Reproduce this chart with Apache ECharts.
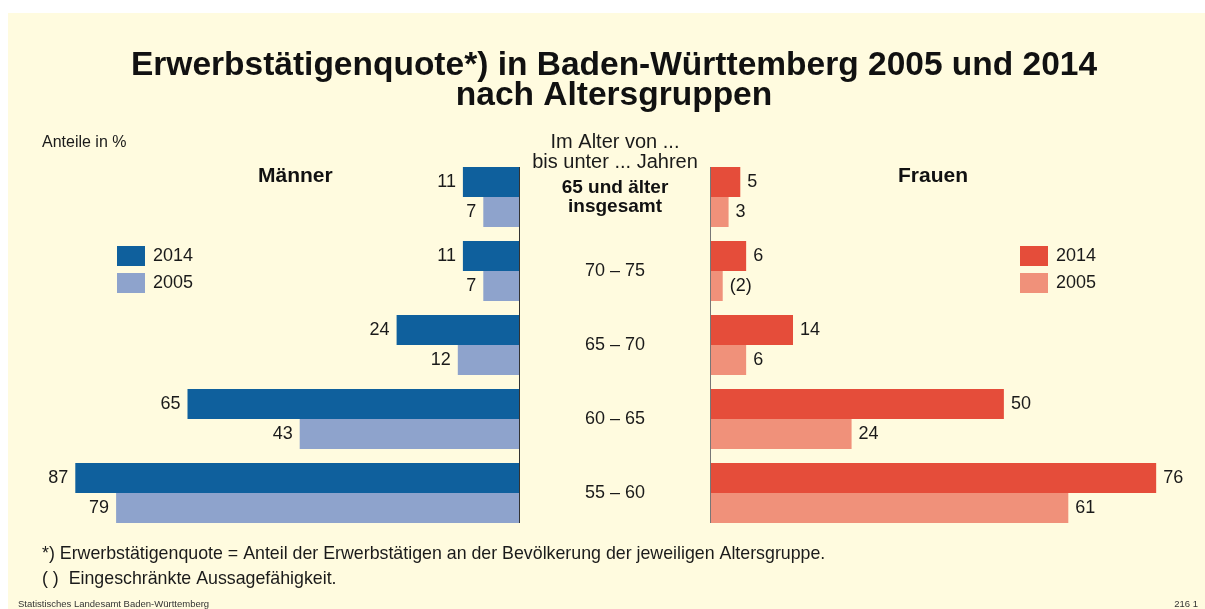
<!DOCTYPE html>
<html>
<head>
<meta charset="utf-8">
<script src="https://cdn.jsdelivr.net/npm/echarts@6/dist/echarts.min.js"></script>
<style>
  html, body { margin: 0; padding: 0; background: #fff; }
  .paper { position: absolute; left: 8px; top: 13px; width: 1197px; height: 596px; background: #fffbdf; }
  #chart { position: absolute; left: 0; top: 0; width: 1205px; height: 609px; }
</style>
</head>
<body>
<div class="paper"></div>
<div id="chart"></div>
<script>
// Altersgruppen (von oben nach unten)
const categories = ['65 und älter insgesamt', '70 – 75', '65 – 70', '60 – 65', '55 – 60'];
// Anteile in %
const maenner2014 = [11, 11, 24, 65, 87];
const maenner2005 = [7, 7, 12, 43, 79];
const frauen2014 = [5, 6, 14, 50, 76];
const frauen2005 = [3, 2, 6, 24, 61];
// eingeschränkte Aussagefähigkeit -> Wert in Klammern
const frauen2005Klammer = [false, true, false, false, false];

const font = '"Liberation Sans", Arial, sans-serif';
const colors = { m14: '#0f609d', m05: '#8ea3cc', f14: '#e54d3a', f05: '#f0917a' };

// Layout
const gridTop = 160, gridHeight = 370, barW = 30;
const band = gridHeight / categories.length;
const axisTop = gridTop + (band - 2 * barW) / 2;
const axisBottom = gridTop + gridHeight - (band - 2 * barW) / 2;

const chart = echarts.init(document.getElementById('chart'));

function barLabel(pos) {
  return {
    show: true,
    position: pos,
    distance: 7,
    fontFamily: font,
    fontSize: 18,
    color: '#1a1a1a'
  };
}

function txt(size, weight, extra) {
  return Object.assign({ fontFamily: font, fontSize: size, fontWeight: weight, color: '#1a1a1a' }, extra || {});
}

const option = {
  animation: false,
  textStyle: { fontFamily: font },
  title: [
    {
      text: 'Erwerbstätigenquote*) in Baden-Württemberg 2005 und 2014\nnach Altersgruppen',
      left: 614, top: 51, textAlign: 'center', padding: 0,
      textStyle: txt(33.5, 'bold', { color: '#111', lineHeight: 30 })
    },
    { text: 'Anteile in %', left: 42, top: 135, padding: 0, textStyle: txt(16, 'normal') },
    { text: 'Männer', left: 258, top: 166, padding: 0, textStyle: txt(21, 'bold', { color: '#111' }) },
    { text: 'Frauen', left: 898, top: 166, padding: 0, textStyle: txt(21, 'bold', { color: '#111' }) },
    {
      text: 'Im Alter von ...\nbis unter ... Jahren',
      left: 615, top: 132, textAlign: 'center', padding: 0,
      textStyle: txt(20, 'normal', { lineHeight: 20.5 })
    },
    {
      text: '*) Erwerbstätigenquote = Anteil der Erwerbstätigen an der Bevölkerung der jeweiligen Altersgruppe.\n( )  Eingeschränkte Aussagefähigkeit.',
      left: 42, top: 542, padding: 0,
      textStyle: txt(17.8, 'normal', { lineHeight: 25 })
    },
    { text: 'Statistisches Landesamt Baden-Württemberg', left: 18, top: 599, padding: 0, textStyle: txt(9.5, 'normal', { color: '#333', lineHeight: 10 }) },
    { text: '216 1', right: 7, top: 599, padding: 0, textStyle: txt(9.5, 'normal', { color: '#333', lineHeight: 10 }) }
  ],
  legend: [
    {
      data: ['Männer 2014', 'Männer 2005'],
      orient: 'vertical', left: 117, top: 246, padding: 0,
      itemWidth: 28, itemHeight: 20, itemGap: 7, icon: 'rect',
      selectedMode: false,
      formatter: n => n.split(' ')[1],
      textStyle: txt(18, 'normal', { padding: [3, 0, 0, 3] })
    },
    {
      data: ['Frauen 2014', 'Frauen 2005'],
      orient: 'vertical', left: 1020, top: 246, padding: 0,
      itemWidth: 28, itemHeight: 20, itemGap: 7, icon: 'rect',
      selectedMode: false,
      formatter: n => n.split(' ')[1],
      textStyle: txt(18, 'normal', { padding: [3, 0, 0, 3] })
    }
  ],
  grid: [
    { left: 9, width: 510, top: gridTop, height: gridHeight },
    { left: 711, width: 468.6, top: gridTop, height: gridHeight }
  ],
  xAxis: [
    { gridIndex: 0, type: 'value', min: 0, max: 100, inverse: true, show: false },
    { gridIndex: 1, type: 'value', min: 0, max: 80, show: false }
  ],
  yAxis: [
    {
      gridIndex: 0, type: 'category', data: categories, inverse: true, position: 'right',
      axisLine: { show: false }, axisTick: { show: false },
      axisLabel: {
        margin: 96, align: 'center', fontFamily: font, fontSize: 18, color: '#1a1a1a',
        formatter: (v, i) => i === 0 ? '{b|65 und älter}\n{b|insgesamt}' : v,
        rich: { b: { fontFamily: font, fontSize: 19, fontWeight: 'bold', color: '#111', lineHeight: 19, align: 'center' } }
      }
    },
    {
      gridIndex: 1, type: 'category', data: categories, inverse: true,
      axisLine: { show: false }, axisTick: { show: false }, axisLabel: { show: false }
    }
  ],
  series: [
    {
      name: 'Männer 2014', type: 'bar', xAxisIndex: 0, yAxisIndex: 0,
      data: maenner2014, barWidth: barW, barGap: '0%',
      itemStyle: { color: colors.m14 }, label: barLabel('left')
    },
    {
      name: 'Männer 2005', type: 'bar', xAxisIndex: 0, yAxisIndex: 0,
      data: maenner2005, barWidth: barW, barGap: '0%',
      itemStyle: { color: colors.m05 }, label: barLabel('left')
    },
    {
      name: 'Frauen 2014', type: 'bar', xAxisIndex: 1, yAxisIndex: 1,
      data: frauen2014, barWidth: barW, barGap: '0%',
      itemStyle: { color: colors.f14 }, label: barLabel('right')
    },
    {
      name: 'Frauen 2005', type: 'bar', xAxisIndex: 1, yAxisIndex: 1,
      data: frauen2005, barWidth: barW, barGap: '0%',
      itemStyle: { color: colors.f05 },
      label: Object.assign(barLabel('right'), {
        formatter: p => frauen2005Klammer[p.dataIndex] ? '(' + p.value + ')' : String(p.value)
      })
    }
  ],
  graphic: [
    // Nulllinien der beiden Seiten
    { type: 'line', shape: { x1: 519.5, y1: axisTop, x2: 519.5, y2: axisBottom }, style: { stroke: '#333', lineWidth: 1 }, z: 10 },
    { type: 'line', shape: { x1: 710.5, y1: axisTop, x2: 710.5, y2: axisBottom }, style: { stroke: '#777', lineWidth: 1 }, z: 10 }
  ]
};

chart.setOption(option);
</script>
</body>
</html>
